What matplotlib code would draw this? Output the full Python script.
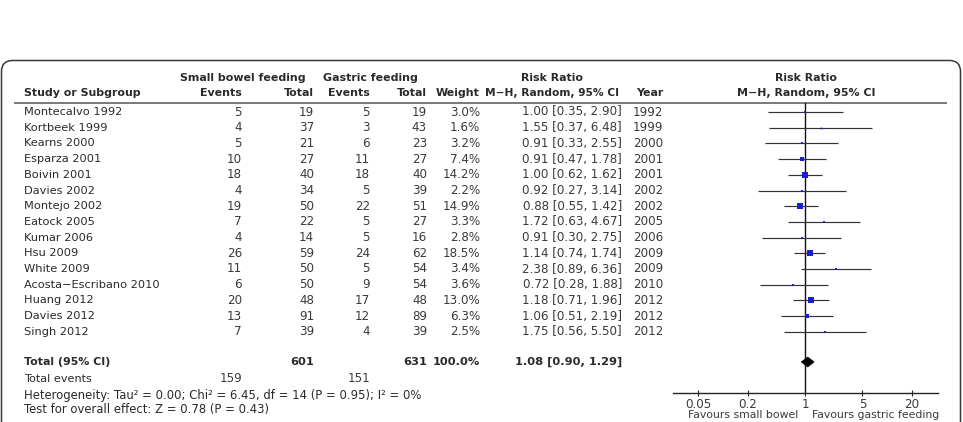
import matplotlib
matplotlib.use("Agg")
import matplotlib.pyplot as plt
from matplotlib.patches import FancyBboxPatch, Polygon
import numpy as np

studies = ["Montecalvo 1992", "Kortbeek 1999", "Kearns 2000", "Esparza 2001", "Boivin 2001",
           "Davies 2002", "Montejo 2002", "Eatock 2005", "Kumar 2006", "Hsu 2009",
           "White 2009", "Acosta\u2212Escribano 2010", "Huang 2012", "Davies 2012", "Singh 2012"]
sb_events = [5, 4, 5, 10, 18, 4, 19, 7, 4, 26, 11, 6, 20, 13, 7]
sb_total = [19, 37, 21, 27, 40, 34, 50, 22, 14, 59, 50, 50, 48, 91, 39]
g_events = [5, 3, 6, 11, 18, 5, 22, 5, 5, 24, 5, 9, 17, 12, 4]
g_total = [19, 43, 23, 27, 40, 39, 51, 27, 16, 62, 54, 54, 48, 89, 39]
weight = [3.0, 1.6, 3.2, 7.4, 14.2, 2.2, 14.9, 3.3, 2.8, 18.5, 3.4, 3.6, 13.0, 6.3, 2.5]
rr = [1.00, 1.55, 0.91, 0.91, 1.00, 0.92, 0.88, 1.72, 0.91, 1.14, 2.38, 0.72, 1.18, 1.06, 1.75]
lo = [0.35, 0.37, 0.33, 0.47, 0.62, 0.27, 0.55, 0.63, 0.30, 0.74, 0.89, 0.28, 0.71, 0.51, 0.56]
hi = [2.90, 6.48, 2.55, 1.78, 1.62, 3.14, 1.42, 4.67, 2.75, 1.74, 6.36, 1.88, 1.96, 2.19, 5.50]
years = [1992, 1999, 2000, 2001, 2001, 2002, 2002, 2005, 2006, 2009, 2009, 2010, 2012, 2012, 2012]

total_sb = 601
total_g = 631
total_weight = 100.0
events_sb = 159
events_g = 151
pooled = (1.08, 0.90, 1.29)
heterogeneity = "Heterogeneity: Tau\u00b2 = 0.00; Chi\u00b2 = 6.45, df = 14 (P = 0.95); I\u00b2 = 0%"
overall = "Test for overall effect: Z = 0.78 (P = 0.43)"
tick_vals = [0.05, 0.2, 1, 5, 20]
tick_labels = ["0.05", "0.2", "1", "5", "20"]

W, H = 963, 422
fig = plt.figure(figsize=(W / 100, H / 100), dpi=100)
bg = fig.add_axes([0, 0, 1, 1])
bg.set_xlim(0, W)
bg.set_ylim(H, 0)
bg.axis("off")

FS_NAME = 8.2
FS_NUM = 8.6
FS_HEAD = 7.9
FS_FOOT = 8.4
TC = "#2a2a2a"
NC = "#3a3a3a"
fam = "DejaVu Sans"

def txt(x, y, s, ha="left", bold=False, color=TC, size=FS_NAME):
    bg.text(x, y, s, ha=ha, va="center", fontsize=size, color=color,
            fontweight="bold" if bold else "normal", family=fam)

# frame
frame = FancyBboxPatch((1.5, 60.5), W - 4, 420, boxstyle="round,pad=0,rounding_size=11",
                       fill=False, edgecolor="#3a3a3a", linewidth=1.1)
bg.add_patch(frame)

# headers
y1, y2 = 78, 93
txt(243, y1, "Small bowel feeding", ha="center", bold=True, size=FS_HEAD)
txt(370, y1, "Gastric feeding", ha="center", bold=True, size=FS_HEAD)
txt(552, y1, "Risk Ratio", ha="center", bold=True, size=FS_HEAD)
txt(806, y1, "Risk Ratio", ha="center", bold=True, size=FS_HEAD)
txt(24, y2, "Study or Subgroup", bold=True, size=FS_HEAD)
txt(242, y2, "Events", ha="right", bold=True, size=FS_HEAD)
txt(314, y2, "Total", ha="right", bold=True, size=FS_HEAD)
txt(370, y2, "Events", ha="right", bold=True, size=FS_HEAD)
txt(427, y2, "Total", ha="right", bold=True, size=FS_HEAD)
txt(480, y2, "Weight", ha="right", bold=True, size=FS_HEAD)
txt(619, y2, "M\u2212H, Random, 95% CI", ha="right", bold=True, size=FS_HEAD - 0.2)
txt(663, y2, "Year", ha="right", bold=True, size=FS_HEAD)
txt(806, y2, "M\u2212H, Random, 95% CI", ha="center", bold=True, size=FS_HEAD)
bg.plot([14, 947], [103, 103], color="#555555", lw=1.1, solid_capstyle="butt")

row0, step = 112, 15.7
row_y = [row0 + i * step for i in range(len(studies))]
for i, y in enumerate(row_y):
    txt(24, y, studies[i])
    txt(242, y, str(sb_events[i]), ha="right", color=NC, size=FS_NUM)
    txt(314, y, str(sb_total[i]), ha="right", color=NC, size=FS_NUM)
    txt(370, y, str(g_events[i]), ha="right", color=NC, size=FS_NUM)
    txt(427, y, str(g_total[i]), ha="right", color=NC, size=FS_NUM)
    txt(480, y, f"{weight[i]:.1f}%", ha="right", color=NC, size=FS_NUM)
    txt(622, y, f"{rr[i]:.2f} [{lo[i]:.2f}, {hi[i]:.2f}]", ha="right", color=NC, size=FS_NUM)
    txt(663, y, str(years[i]), ha="right", color=NC, size=FS_NUM)

yt = 362
txt(24, yt, "Total (95% CI)", bold=True, size=FS_HEAD)
txt(314, yt, str(total_sb), ha="right", bold=True, size=FS_HEAD + 0.3)
txt(427, yt, str(total_g), ha="right", bold=True, size=FS_HEAD + 0.3)
txt(480, yt, f"{total_weight:.1f}%", ha="right", bold=True, size=FS_HEAD + 0.3)
txt(622, yt, f"{pooled[0]:.2f} [{pooled[1]:.2f}, {pooled[2]:.2f}]", ha="right", bold=True,
    size=FS_HEAD + 0.3)
txt(24, 379, "Total events", size=8.1)
txt(242, 379, str(events_sb), ha="right", color=NC, size=FS_NUM)
txt(370, 379, str(events_g), ha="right", color=NC, size=FS_NUM)
txt(24, 395, heterogeneity, size=FS_FOOT)
txt(24, 410, overall, size=FS_FOOT)

# forest plot axes
ax_l, ax_r, ax_b, ax_t = 673, 938, 393, 103
fa = fig.add_axes([ax_l / W, 1 - ax_b / H, (ax_r - ax_l) / W, (ax_b - ax_t) / H])
fa.set_xscale("log")
ppd = (912 - 698) / np.log10(20 / 0.05)
fa.set_xlim(0.05 * 10 ** (-(698 - ax_l) / ppd), 20 * 10 ** ((ax_r - 912) / ppd))
fa.set_ylim(ax_b, ax_t)
fa.patch.set_alpha(0)
for s in ["top", "left", "right"]:
    fa.spines[s].set_visible(False)
fa.spines["bottom"].set_linewidth(1.0)
fa.spines["bottom"].set_color("#222222")
fa.set_yticks([])
fa.set_xticks(tick_vals)
fa.set_xticklabels(tick_labels)
fa.minorticks_off()
fa.tick_params(axis="x", direction="inout", length=5, width=0.8, pad=1,
               labelsize=FS_NUM, labelcolor=NC, color="#222222")
for lab in fa.get_xticklabels():
    lab.set_family(fam)

fa.axvline(1, color="#111111", lw=1.0, zorder=1)
for i, y in enumerate(row_y):
    fa.plot([lo[i], hi[i]], [y, y], color="#333333", lw=0.85, zorder=2, solid_capstyle="butt")
    side_px = 1.4 * np.sqrt(weight[i])
    fa.plot(rr[i], y, marker="s", ms=side_px * 0.72, color="#1c1cd0", mec="#1c1cd0",
            mew=0, zorder=3, linestyle="none")

dh = 5
diamond = Polygon([(pooled[1], yt), (pooled[0], yt - dh), (pooled[2], yt), (pooled[0], yt + dh)],
                  closed=True, facecolor="black", edgecolor="black", lw=0.5, zorder=4)
fa.add_patch(diamond)

txt(798, 415, "Favours small bowel", ha="right", color=NC, size=7.8)
txt(812, 415, "Favours gastric feeding", ha="left", color=NC, size=7.8)

fig.savefig("out.png", dpi=100)
